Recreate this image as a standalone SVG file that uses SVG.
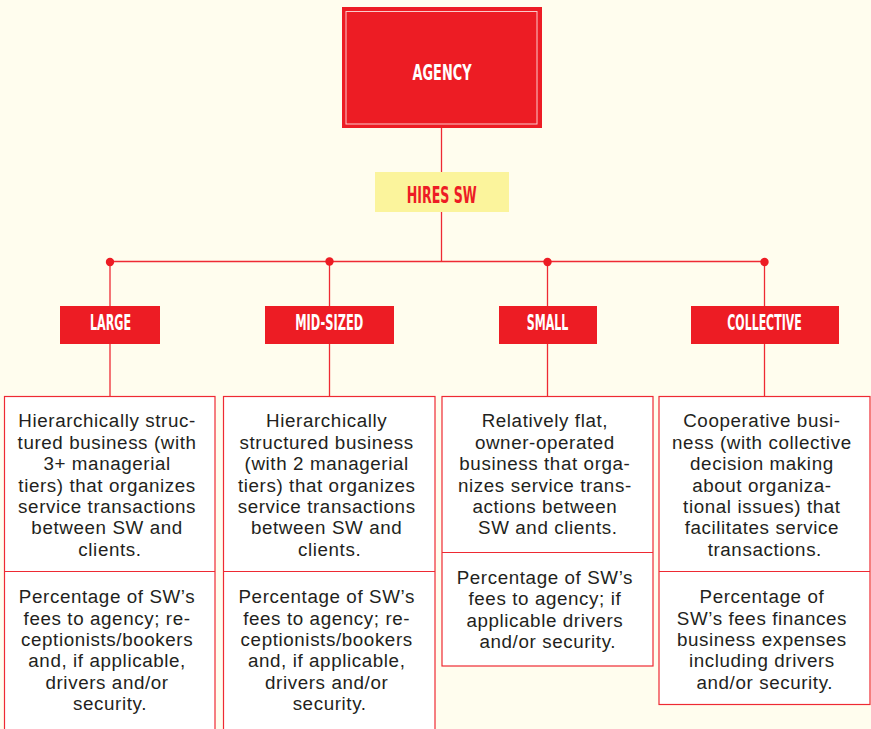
<svg xmlns="http://www.w3.org/2000/svg" width="871" height="729" viewBox="0 0 871 729">
<style>
.lbl{font-family:"Liberation Sans Narrow","DejaVu Sans Condensed","Liberation Sans",sans-serif;font-weight:bold;font-size:22px;text-anchor:middle;fill:#FFFFFF}
.red{fill:#ED1C24}
.box{fill:#FFFFFF;stroke:#EE2A33;stroke-width:1.2}
.div{stroke:#EE2A33;stroke-width:1.2}
.txt{font-family:"Liberation Sans",Arial,sans-serif;font-size:18.8px;letter-spacing:0.6px;text-anchor:middle;fill:#231F20}
.con{stroke:#EE2A33;stroke-width:1.3;fill:none}
.dot{fill:#ED1C24}
</style>
<rect width="871" height="729" fill="#FFFDEE"/>
<g id="connectors">
<line class="con" x1="441.5" y1="128" x2="441.5" y2="172"/>
<line class="con" x1="441.5" y1="212" x2="441.5" y2="261.5"/>
<line class="con" x1="110" y1="261.5" x2="765" y2="261.5"/>
<line class="con" x1="110" y1="261.5" x2="110" y2="306"/>
<line class="con" x1="110" y1="344" x2="110" y2="396"/>
<line class="con" x1="329.5" y1="261.5" x2="329.5" y2="306"/>
<line class="con" x1="329.5" y1="344" x2="329.5" y2="396"/>
<line class="con" x1="547.5" y1="261.5" x2="547.5" y2="306"/>
<line class="con" x1="547.5" y1="344" x2="547.5" y2="396"/>
<line class="con" x1="764.5" y1="261.5" x2="764.5" y2="306"/>
<line class="con" x1="764.5" y1="344" x2="764.5" y2="396"/>
<circle class="dot" cx="110" cy="262" r="4.2"/>
<circle class="dot" cx="329.5" cy="261.5" r="4.2"/>
<circle class="dot" cx="547.5" cy="262" r="4.2"/>
<circle class="dot" cx="764.5" cy="262" r="4.2"/>
</g>
<g id="agency">
<rect class="red" x="342" y="7" width="200" height="121"/>
<rect x="346" y="11.5" width="191" height="112.5" fill="none" stroke="#FBCACA" stroke-width="1"/>
<text class="lbl" x="442" y="80" textLength="59" lengthAdjust="spacingAndGlyphs">AGENCY</text>
</g>
<g id="hires-sw">
<rect x="375" y="172" width="134" height="40" fill="#FBF49C"/>
<text class="lbl" x="441.7" y="203" textLength="70" lengthAdjust="spacingAndGlyphs" style="fill:#ED1C24;font-size:23px">HIRES SW</text>
</g>
<g id="large">
<rect class="red" x="60" y="306" width="100" height="38"/>
<text class="lbl" x="110.5" y="330" textLength="41" lengthAdjust="spacingAndGlyphs">LARGE</text>
</g>
<g id="mid-sized">
<rect class="red" x="265" y="306" width="129" height="38"/>
<text class="lbl" x="329.2" y="330" textLength="68" lengthAdjust="spacingAndGlyphs">MID-SIZED</text>
</g>
<g id="small">
<rect class="red" x="499" y="306" width="98" height="38"/>
<text class="lbl" x="547.5" y="330" textLength="41.6" lengthAdjust="spacingAndGlyphs">SMALL</text>
</g>
<g id="collective">
<rect class="red" x="691" y="306" width="148" height="38"/>
<text class="lbl" x="764.5" y="330" textLength="74.4" lengthAdjust="spacingAndGlyphs">COLLECTIVE</text>
</g>
<g id="large-detail">
<rect class="box" x="4.5" y="396.5" width="210.5" height="345"/>
<line class="div" x1="4.5" y1="571.5" x2="215" y2="571.5"/>
<text class="txt">
<tspan x="110" y="427.3">Hierarchically struc-</tspan>
<tspan x="110" y="448.7">tured business (with</tspan>
<tspan x="110" y="470.1">3+ managerial</tspan>
<tspan x="110" y="491.5">tiers) that organizes</tspan>
<tspan x="110" y="512.9">service transactions</tspan>
<tspan x="110" y="534.3">between SW and</tspan>
<tspan x="110" y="555.7">clients.</tspan>
</text>
<text class="txt">
<tspan x="110" y="603.3">Percentage of SW’s</tspan>
<tspan x="110" y="624.6">fees to agency; re-</tspan>
<tspan x="110" y="645.9">ceptionists/bookers</tspan>
<tspan x="110" y="667.2">and, if applicable,</tspan>
<tspan x="110" y="688.5">drivers and/or</tspan>
<tspan x="110" y="709.8">security.</tspan>
</text>
</g>
<g id="mid-sized-detail">
<rect class="box" x="223.5" y="396.5" width="211.5" height="345"/>
<line class="div" x1="223.5" y1="571.5" x2="435" y2="571.5"/>
<text class="txt">
<tspan x="329.6" y="427.3">Hierarchically</tspan>
<tspan x="329.6" y="448.7">structured business</tspan>
<tspan x="329.6" y="470.1">(with 2 managerial</tspan>
<tspan x="329.6" y="491.5">tiers) that organizes</tspan>
<tspan x="329.6" y="512.9">service transactions</tspan>
<tspan x="329.6" y="534.3">between SW and</tspan>
<tspan x="329.6" y="555.7">clients.</tspan>
</text>
<text class="txt">
<tspan x="329.6" y="603.3">Percentage of SW’s</tspan>
<tspan x="329.6" y="624.6">fees to agency; re-</tspan>
<tspan x="329.6" y="645.9">ceptionists/bookers</tspan>
<tspan x="329.6" y="667.2">and, if applicable,</tspan>
<tspan x="329.6" y="688.5">drivers and/or</tspan>
<tspan x="329.6" y="709.8">security.</tspan>
</text>
</g>
<g id="small-detail">
<rect class="box" x="442" y="396.5" width="211" height="269.5"/>
<line class="div" x1="442" y1="552.5" x2="653" y2="552.5"/>
<text class="txt">
<tspan x="547.8" y="427.3">Relatively flat,</tspan>
<tspan x="547.8" y="448.7">owner-operated</tspan>
<tspan x="547.8" y="470.1">business that orga-</tspan>
<tspan x="547.8" y="491.5">nizes service trans-</tspan>
<tspan x="547.8" y="512.9">actions between</tspan>
<tspan x="547.8" y="534.3">SW and clients.</tspan>
</text>
<text class="txt">
<tspan x="547.8" y="584">Percentage of SW’s</tspan>
<tspan x="547.8" y="605.3">fees to agency; if</tspan>
<tspan x="547.8" y="626.6">applicable drivers</tspan>
<tspan x="547.8" y="647.9">and/or security.</tspan>
</text>
</g>
<g id="collective-detail">
<rect class="box" x="659" y="396.5" width="211" height="308"/>
<line class="div" x1="659" y1="571.5" x2="870" y2="571.5"/>
<text class="txt">
<tspan x="764.8" y="427.3">Cooperative busi-</tspan>
<tspan x="764.8" y="448.7">ness (with collective</tspan>
<tspan x="764.8" y="470.1">decision making</tspan>
<tspan x="764.8" y="491.5">about organiza-</tspan>
<tspan x="764.8" y="512.9">tional issues) that</tspan>
<tspan x="764.8" y="534.3">facilitates service</tspan>
<tspan x="764.8" y="555.7">transactions.</tspan>
</text>
<text class="txt">
<tspan x="764.8" y="603.3">Percentage of</tspan>
<tspan x="764.8" y="624.6">SW’s fees finances</tspan>
<tspan x="764.8" y="645.9">business expenses</tspan>
<tspan x="764.8" y="667.2">including drivers</tspan>
<tspan x="764.8" y="688.5">and/or security.</tspan>
</text>
</g>
</svg>
